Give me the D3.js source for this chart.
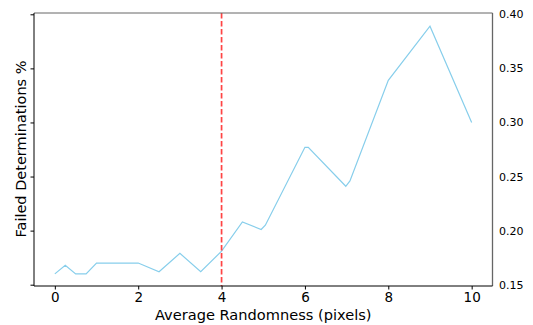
<!DOCTYPE html>
<html>
<head>
<meta charset="utf-8">
<script src="https://cdn.jsdelivr.net/npm/d3@7"></script>
<style>
  body { margin: 0; background: #fff; }
  svg { font-family: "DejaVu Sans", sans-serif; }
</style>
</head>
<body>
<svg id="chart" width="533" height="325"></svg>
<script>
// randomness (x) vs failed determinations (y)
const randomness = [0, 0.25, 0.5, 0.75, 1.0, 2.0, 2.5, 3.0, 3.5, 4.0, 4.5, 4.95, 5.05, 6.0, 6.08, 6.98, 7.08, 8.0, 9.0, 10.0];
const failed = [0.160, 0.168, 0.160, 0.160, 0.170, 0.170, 0.162, 0.179, 0.162, 0.181, 0.208, 0.201, 0.205, 0.277, 0.277, 0.241, 0.246, 0.339, 0.389, 0.300];
const xTicks = [0, 2, 4, 6, 8, 10];
const yTicks = [0.15, 0.20, 0.25, 0.30, 0.35, 0.40];
const threshold = 4;

const data = randomness.map((x, i) => ({ x: x, y: failed[i] }));

const m = { left: 34, right: 492.5, top: 13, bottom: 286 };
const svg = d3.select('#chart');

const x = d3.scaleLinear().domain([-0.5, 10.5]).range([m.left, m.right]);
const y = d3.scaleLinear().domain([0.1488, 0.4012]).range([m.bottom, m.top]);

// line
const line = d3.line().x(d => x(d.x)).y(d => y(d.y));
svg.append('path')
  .datum(data)
  .attr('d', line)
  .attr('fill', 'none')
  .attr('stroke', '#87ceeb')
  .attr('stroke-width', 1.2);

// threshold line
svg.append('line')
  .attr('x1', x(threshold)).attr('x2', x(threshold))
  .attr('y1', m.top).attr('y2', m.bottom)
  .attr('stroke', '#ff3030')
  .attr('stroke-opacity', 0.9)
  .attr('stroke-width', 1.7)
  .attr('stroke-dasharray', '5.5,2.5');

// bottom axis
const xAxis = svg.append('g')
  .attr('transform', `translate(0,${m.bottom})`)
  .call(d3.axisBottom(x).tickValues(xTicks).tickSize(3.5).tickPadding(3).tickFormat(d3.format('d')));
xAxis.select('.domain').remove();
xAxis.selectAll('text').attr('font-size', 13.5).attr('fill', '#000').attr('font-family', 'DejaVu Sans');

// left axis, ticks only
const yAxisL = svg.append('g')
  .attr('transform', `translate(${m.left},0)`)
  .call(d3.axisLeft(y).tickValues(yTicks).tickSize(3.5).tickFormat(''));
yAxisL.select('.domain').remove();

// right axis, labels only
const yAxisR = svg.append('g')
  .attr('transform', `translate(${m.right},0)`)
  .call(d3.axisRight(y).tickValues(yTicks).tickSize(0).tickPadding(6.5).tickFormat(d3.format('.2f')));
yAxisR.select('.domain').remove();
yAxisR.selectAll('text').attr('font-size', 11).attr('fill', '#000').attr('font-family', 'DejaVu Sans');

// spines
svg.append('line').attr('x1', m.left).attr('x2', m.right).attr('y1', m.top).attr('y2', m.top).attr('stroke', '#666').attr('stroke-width', 1);
svg.append('line').attr('x1', m.right).attr('x2', m.right).attr('y1', m.top).attr('y2', m.bottom).attr('stroke', '#666').attr('stroke-width', 1.3);
svg.append('line').attr('x1', m.left).attr('x2', m.left).attr('y1', m.top).attr('y2', m.bottom).attr('stroke', '#000').attr('stroke-width', 1);
svg.append('line').attr('x1', m.left).attr('x2', m.right).attr('y1', m.bottom).attr('y2', m.bottom).attr('stroke', '#000').attr('stroke-width', 1);

// labels
svg.append('text')
  .attr('x', (m.left + m.right) / 2).attr('y', 319.5)
  .attr('text-anchor', 'middle')
  .attr('font-size', 14.6)
  .text('Average Randomness (pixels)');

svg.append('text')
  .attr('transform', `translate(26,149) rotate(-90)`)
  .attr('text-anchor', 'middle')
  .attr('font-size', 14.5)
  .text('Failed Determinations %');
</script>
</body>
</html>
